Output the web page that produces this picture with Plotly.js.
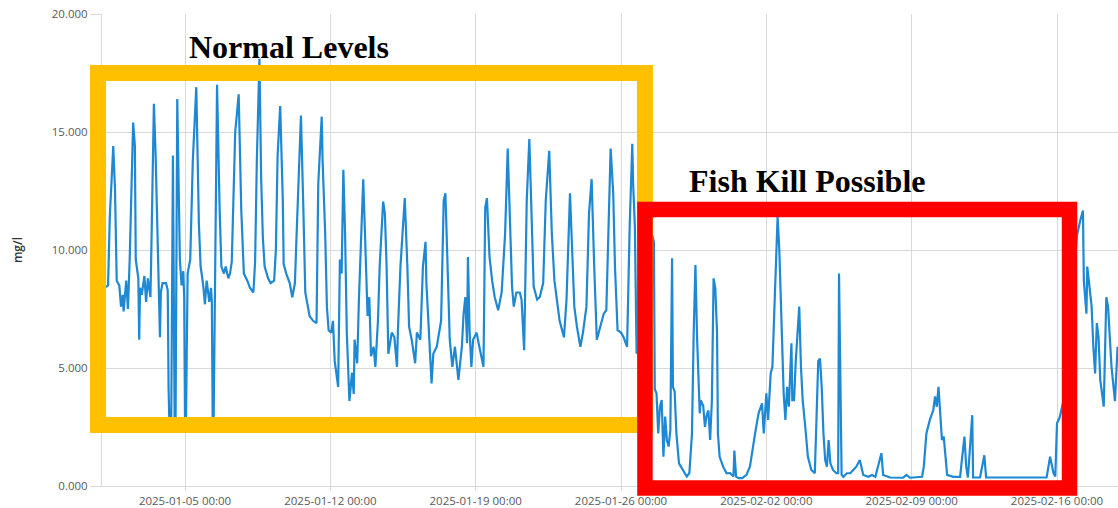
<!DOCTYPE html>
<html>
<head>
<meta charset="utf-8">
<script src="https://cdn.plot.ly/plotly-3.0.1.min.js"></script>
<style>
  html, body { margin: 0; padding: 0; background: #ffffff; }
  #chart { width: 1118px; height: 508px; }
</style>
</head>
<body>
<div id="chart"></div>
<script>
// Dissolved oxygen readings (mg/l)
const timestamps = [
'2025-01-01 03:00','2025-01-01 07:00','2025-01-01 09:00','2025-01-01 13:00','2025-01-01 15:00','2025-01-01 17:00','2025-01-01 20:00','2025-01-01 22:00',
'2025-01-02 00:00','2025-01-02 01:00','2025-01-02 04:00','2025-01-02 06:00','2025-01-02 08:00','2025-01-02 11:00','2025-01-02 12:00','2025-01-02 14:00','2025-01-02 15:00','2025-01-02 18:00','2025-01-02 19:00','2025-01-02 20:00','2025-01-02 22:00',
'2025-01-03 01:00','2025-01-03 03:00','2025-01-03 05:00','2025-01-03 08:00','2025-01-03 09:00','2025-01-03 11:00','2025-01-03 12:00','2025-01-03 14:00','2025-01-03 17:00','2025-01-03 19:00','2025-01-03 20:00','2025-01-03 22:00',
'2025-01-04 02:00','2025-01-04 04:00','2025-01-04 05:00','2025-01-04 06:00','2025-01-04 08:00','2025-01-04 10:00','2025-01-04 12:00','2025-01-04 13:00','2025-01-04 15:00','2025-01-04 16:00','2025-01-04 18:00','2025-01-04 20:00','2025-01-04 22:00','2025-01-04 23:00',
'2025-01-05 00:00','2025-01-05 01:00','2025-01-05 03:00','2025-01-05 06:00','2025-01-05 09:00','2025-01-05 13:00','2025-01-05 16:00','2025-01-05 18:00','2025-01-05 21:00','2025-01-05 23:00',
'2025-01-06 01:00','2025-01-06 04:00','2025-01-06 06:00','2025-01-06 07:00','2025-01-06 08:00','2025-01-06 09:00','2025-01-06 11:00','2025-01-06 13:00','2025-01-06 16:00','2025-01-06 18:00','2025-01-06 21:00','2025-01-06 23:00',
'2025-01-07 02:00','2025-01-07 04:00','2025-01-07 06:00','2025-01-07 10:00','2025-01-07 14:00','2025-01-07 17:00','2025-01-07 20:00',
'2025-01-08 00:00','2025-01-08 03:00','2025-01-08 07:00','2025-01-08 09:00','2025-01-08 11:00','2025-01-08 14:00','2025-01-08 16:00','2025-01-08 18:00','2025-01-08 20:00',
'2025-01-09 00:00','2025-01-09 03:00','2025-01-09 07:00','2025-01-09 09:00','2025-01-09 11:00','2025-01-09 14:00','2025-01-09 17:00','2025-01-09 18:00','2025-01-09 21:00',
'2025-01-10 01:00','2025-01-10 04:00','2025-01-10 07:00','2025-01-10 09:00','2025-01-10 14:00','2025-01-10 17:00','2025-01-10 19:00','2025-01-10 22:00',
'2025-01-11 00:00','2025-01-11 04:00','2025-01-11 08:00','2025-01-11 10:00','2025-01-11 13:00','2025-01-11 14:00','2025-01-11 15:00','2025-01-11 18:00','2025-01-11 20:00','2025-01-11 22:00',
'2025-01-12 01:00','2025-01-12 03:00','2025-01-12 05:00','2025-01-12 09:00','2025-01-12 11:00','2025-01-12 13:00','2025-01-12 15:00','2025-01-12 17:00','2025-01-12 19:00','2025-01-12 22:00',
'2025-01-13 01:00','2025-01-13 03:00','2025-01-13 04:00','2025-01-13 07:00','2025-01-13 09:00','2025-01-13 12:00','2025-01-13 14:00','2025-01-13 16:00','2025-01-13 19:00','2025-01-13 21:00','2025-01-13 23:00',
'2025-01-14 02:00','2025-01-14 04:00','2025-01-14 07:00','2025-01-14 09:00','2025-01-14 13:00','2025-01-14 15:00','2025-01-14 17:00','2025-01-14 19:00','2025-01-14 23:00',
'2025-01-15 02:00','2025-01-15 05:00','2025-01-15 06:00','2025-01-15 09:00','2025-01-15 14:00','2025-01-15 17:00','2025-01-15 19:00','2025-01-15 22:00',
'2025-01-16 02:00','2025-01-16 04:00','2025-01-16 08:00','2025-01-16 11:00','2025-01-16 14:00','2025-01-16 15:00','2025-01-16 18:00','2025-01-16 21:00','2025-01-16 23:00',
'2025-01-17 03:00','2025-01-17 08:00','2025-01-17 11:00','2025-01-17 13:00','2025-01-17 15:00','2025-01-17 18:00','2025-01-17 21:00',
'2025-01-18 00:00','2025-01-18 04:00','2025-01-18 08:00','2025-01-18 10:00','2025-01-18 12:00','2025-01-18 14:00','2025-01-18 15:00','2025-01-18 17:00','2025-01-18 19:00','2025-01-18 21:00',
'2025-01-19 01:00','2025-01-19 05:00','2025-01-19 09:00','2025-01-19 11:00','2025-01-19 13:00','2025-01-19 16:00','2025-01-19 19:00','2025-01-19 22:00',
'2025-01-20 02:00','2025-01-20 06:00','2025-01-20 10:00','2025-01-20 13:00','2025-01-20 15:00','2025-01-20 18:00','2025-01-20 20:00','2025-01-20 23:00',
'2025-01-21 03:00','2025-01-21 05:00','2025-01-21 08:00','2025-01-21 11:00','2025-01-21 14:00','2025-01-21 17:00','2025-01-21 19:00','2025-01-21 23:00',
'2025-01-22 02:00','2025-01-22 06:00','2025-01-22 09:00','2025-01-22 13:00','2025-01-22 16:00','2025-01-22 19:00','2025-01-22 22:00',
'2025-01-23 01:00','2025-01-23 06:00','2025-01-23 09:00','2025-01-23 13:00','2025-01-23 15:00','2025-01-23 18:00','2025-01-23 21:00',
'2025-01-24 01:00','2025-01-24 04:00','2025-01-24 08:00','2025-01-24 11:00','2025-01-24 14:00','2025-01-24 17:00','2025-01-24 20:00',
'2025-01-25 00:00','2025-01-25 04:00','2025-01-25 07:00','2025-01-25 09:00','2025-01-25 12:00','2025-01-25 15:00','2025-01-25 17:00','2025-01-25 20:00',
'2025-01-26 00:00','2025-01-26 03:00','2025-01-26 07:00','2025-01-26 10:00','2025-01-26 13:00','2025-01-26 14:00','2025-01-26 16:00','2025-01-26 18:00','2025-01-26 22:00',
'2025-01-27 04:00','2025-01-27 09:00','2025-01-27 14:00','2025-01-27 15:00','2025-01-27 17:00','2025-01-27 19:00','2025-01-27 21:00','2025-01-27 23:00',
'2025-01-28 01:00','2025-01-28 03:00','2025-01-28 05:00','2025-01-28 07:00','2025-01-28 09:00','2025-01-28 11:00','2025-01-28 12:00','2025-01-28 14:00','2025-01-28 16:00','2025-01-28 19:00',
'2025-01-29 00:00','2025-01-29 04:00','2025-01-29 07:00','2025-01-29 10:00','2025-01-29 12:00','2025-01-29 14:00','2025-01-29 16:00','2025-01-29 19:00','2025-01-29 20:00','2025-01-29 23:00',
'2025-01-30 01:00','2025-01-30 03:00','2025-01-30 05:00','2025-01-30 07:00','2025-01-30 09:00','2025-01-30 11:00','2025-01-30 13:00','2025-01-30 15:00','2025-01-30 16:00','2025-01-30 18:00','2025-01-30 22:00',
'2025-01-31 02:00','2025-01-31 06:00','2025-01-31 10:00','2025-01-31 11:00','2025-01-31 13:00','2025-01-31 16:00','2025-01-31 20:00',
'2025-02-01 01:00','2025-02-01 05:00','2025-02-01 11:00','2025-02-01 15:00','2025-02-01 19:00','2025-02-01 21:00',
'2025-02-02 00:00','2025-02-02 02:00','2025-02-02 05:00','2025-02-02 07:00','2025-02-02 09:00','2025-02-02 11:00','2025-02-02 13:00','2025-02-02 15:00','2025-02-02 17:00','2025-02-02 19:00','2025-02-02 20:00','2025-02-02 22:00',
'2025-02-03 00:00','2025-02-03 02:00','2025-02-03 05:00','2025-02-03 06:00','2025-02-03 08:00','2025-02-03 10:00','2025-02-03 12:00','2025-02-03 14:00','2025-02-03 16:00','2025-02-03 18:00','2025-02-03 21:00',
'2025-02-04 00:00','2025-02-04 04:00','2025-02-04 08:00','2025-02-04 10:00','2025-02-04 12:00','2025-02-04 14:00','2025-02-04 16:00','2025-02-04 18:00','2025-02-04 20:00','2025-02-04 22:00',
'2025-02-05 00:00','2025-02-05 02:00','2025-02-05 05:00','2025-02-05 09:00','2025-02-05 11:00','2025-02-05 12:00','2025-02-05 14:00','2025-02-05 15:00','2025-02-05 17:00','2025-02-05 21:00',
'2025-02-06 01:00','2025-02-06 04:00','2025-02-06 08:00','2025-02-06 12:00','2025-02-06 14:00','2025-02-06 16:00','2025-02-06 22:00',
'2025-02-07 02:00','2025-02-07 06:00','2025-02-07 09:00','2025-02-07 13:00','2025-02-07 15:00','2025-02-07 23:00',
'2025-02-08 14:00','2025-02-08 18:00','2025-02-08 22:00',
'2025-02-09 12:00','2025-02-09 14:00','2025-02-09 17:00','2025-02-09 21:00',
'2025-02-10 01:00','2025-02-10 03:00','2025-02-10 05:00','2025-02-10 07:00','2025-02-10 09:00','2025-02-10 11:00','2025-02-10 13:00','2025-02-10 15:00','2025-02-10 17:00',
'2025-02-11 00:00','2025-02-11 08:00','2025-02-11 10:00','2025-02-11 13:00','2025-02-11 15:00','2025-02-11 17:00','2025-02-11 22:00','2025-02-11 23:00',
'2025-02-12 07:00','2025-02-12 12:00','2025-02-12 14:00',
'2025-02-13 06:00','2025-02-14 05:00',
'2025-02-15 12:00','2025-02-15 16:00','2025-02-15 20:00','2025-02-15 22:00',
'2025-02-16 00:00','2025-02-16 03:00','2025-02-16 10:00','2025-02-16 17:00','2025-02-16 23:00',
'2025-02-17 03:00','2025-02-17 06:00','2025-02-17 07:00','2025-02-17 10:00','2025-02-17 11:00','2025-02-17 13:00','2025-02-17 16:00','2025-02-17 18:00','2025-02-17 20:00','2025-02-17 22:00',
'2025-02-18 00:00','2025-02-18 02:00','2025-02-18 06:00','2025-02-18 09:00','2025-02-18 11:00','2025-02-18 15:00','2025-02-18 19:00','2025-02-18 22:00'
];

const oxygen = [
8.4,8.5,11.4,14.4,12.6,8.7,8.5,7.6,
8.1,7.4,8.7,7.5,9.6,13.8,15.4,14.4,9.6,8.8,6.2,8.4,8.1,
8.9,7.8,8.8,8.0,9.9,14.0,16.2,14.0,9.4,6.3,8.2,8.6,
8.6,8.3,4.1,2.5,2.5,14.0,2.5,2.5,16.4,13.9,9.6,8.5,9.1,8.0,
2.5,2.5,9.0,9.6,13.8,16.9,11.1,9.3,8.5,7.7,
8.7,7.8,8.4,7.8,2.5,2.5,9.5,17.0,11.7,9.3,9.0,9.3,
8.8,9.0,9.5,15.0,16.6,11.7,9.0,
8.7,8.4,8.2,9.5,13.8,18.1,13.0,10.5,9.3,
8.8,8.6,8.7,10.0,14.0,16.1,12.1,9.4,9.0,
8.6,8.0,8.6,10.7,15.7,11.4,8.2,7.6,
7.2,7.0,6.9,12.8,15.3,15.65,13.8,10.7,7.6,6.6,
6.5,7.0,5.3,4.2,9.6,9.0,13.4,10.7,6.5,3.6,
4.8,3.9,6.2,5.2,7.9,11.4,13.0,10.7,7.2,8.0,5.5,
5.9,5.05,7.0,9.3,12.05,11.55,9.3,5.6,6.5,
6.3,5.05,6.5,9.3,12.2,9.3,6.75,6.2,
5.2,6.5,6.2,9.3,10.35,8.6,6.2,4.35,5.6,
5.9,7.0,12.1,12.4,9.7,6.2,5.05,
5.9,4.5,5.9,7.3,8.0,6.05,9.7,6.5,5.05,6.2,
6.5,5.75,5.05,11.8,12.2,9.7,8.7,8.0,
7.45,8.2,10.7,14.3,12.1,8.45,7.6,8.2,
8.2,7.9,5.75,12.1,14.7,11.4,8.45,7.9,
8.0,8.6,12.1,14.2,10.7,8.7,7.9,
7.0,6.3,7.9,12.4,10.7,7.6,6.75,
5.9,6.5,7.6,11.55,13.0,9.3,6.2,
6.75,7.3,7.45,10.7,14.3,12.4,9.3,6.6,
6.5,6.3,5.9,11.0,14.5,12.8,11.0,5.6,6.5,
8.0,11.0,10.35,4.1,3.93,2.23,3.36,3.64,
1.24,2.94,1.95,1.67,2.37,9.65,4.2,4.0,2.23,0.96,
0.68,0.4,0.55,2.2,6.47,9.36,6.2,3.08,3.64,3.4,
2.5,3.0,3.2,1.95,3.6,8.8,8.37,6.47,2.23,1.24,0.82,
0.54,0.55,0.4,1.5,0.4,0.33,0.33,
0.47,0.82,2.23,3.08,3.5,2.23,
3.93,2.8,4.77,5.05,7.2,9.3,11.4,10.0,7.9,5.75,3.93,2.8,
4.2,3.36,6.05,3.64,3.64,5.3,6.75,7.6,5.05,3.64,2.5,
1.24,0.68,0.54,2.9,5.3,5.4,4.2,2.23,1.1,0.82,
1.95,0.96,0.68,0.54,0.54,9.0,1.39,0.47,0.39,0.54,
0.54,0.68,0.82,1.1,0.82,0.47,0.39,
0.47,0.39,0.82,1.39,0.47,0.36,
0.35,0.47,0.35,
0.39,0.82,2.23,2.8,
3.22,3.8,3.36,4.2,2.94,1.95,2.1,1.1,0.47,
0.39,0.39,1.1,2.09,0.82,0.36,3.0,0.36,
0.36,1.3,0.36,
0.36,0.38,
0.36,1.24,0.54,0.4,
2.66,2.9,4.0,8.0,10.6,
11.27,11.67,8.7,7.3,9.3,8.6,7.6,5.9,4.77,6.9,
6.3,4.5,3.36,8.0,7.6,5.05,3.6,5.9
];

const xRange = ['2025-01-01 00:00', '2025-02-18 22:30'];
const yRange = [0, 20];
const yTickValues = [0, 5, 10, 15, 20];
const yAxisLabel = 'mg/l';
const zoneLabels = ['Normal Levels', 'Fish Kill Possible'];

const gridColor = '#d9d9d9';
const tickFont = { family: 'Open Sans, sans-serif', size: 11.5, color: '#595959' };

const trace = {
  type: 'scatter',
  mode: 'lines',
  x: timestamps,
  y: oxygen,
  line: { color: '#1f88d2', width: 2.2 },
  hoverinfo: 'skip',
  showlegend: false
};

const layout = {
  width: 1118,
  height: 508,
  margin: { l: 102, r: 0, t: 14, b: 22 },
  paper_bgcolor: '#ffffff',
  plot_bgcolor: '#ffffff',
  showlegend: false,
  xaxis: {
    type: 'date',
    range: xRange,
    tick0: '2025-01-05',
    dtick: 7 * 86400000,
    tickformat: '%Y-%m-%d %H:%M',
    showgrid: true,
    gridcolor: gridColor,
    gridwidth: 1,
    ticks: 'outside',
    ticklen: 4,
    tickcolor: gridColor,
    showline: true,
    linecolor: gridColor,
    tickfont: tickFont,
    zeroline: false,
    automargin: false
  },
  yaxis: {
    range: yRange,
    tickvals: yTickValues,
    tickformat: '.3f',
    showgrid: true,
    gridcolor: gridColor,
    gridwidth: 1,
    ticks: 'outside',
    ticklen: 11,
    tickcolor: gridColor,
    showline: true,
    linecolor: gridColor,
    zeroline: true,
    zerolinecolor: gridColor,
    zerolinewidth: 1,
    tickfont: tickFont,
    automargin: false,
    title: {
      text: yAxisLabel,
      standoff: 26,
      font: { family: 'Open Sans, sans-serif', size: 12, color: '#333333', weight: 600 }
    }
  },
  shapes: [
    {
      type: 'rect', xref: 'paper', yref: 'paper',
      x0: -0.0039, x1: 0.5344, y0: 0.1292, y1: 0.875,
      line: { color: '#FFC000', width: 16 },
      fillcolor: 'rgba(0,0,0,0)',
      layer: 'above'
    },
    {
      type: 'rect', xref: 'paper', yref: 'paper',
      x0: 0.5344, x1: 0.9523, y0: -0.0042, y1: 0.5858,
      line: { color: '#FF0000', width: 15.5 },
      fillcolor: 'rgba(0,0,0,0)',
      layer: 'above'
    }
  ],
  annotations: [
    {
      text: zoneLabels[0], xref: 'paper', yref: 'paper',
      x: 0.184, y: 0.930, xanchor: 'center', yanchor: 'middle', showarrow: false,
      font: { family: 'Liberation Serif, Times New Roman, serif', size: 32, color: '#000000', weight: 'bold' }
    },
    {
      text: zoneLabels[1], xref: 'paper', yref: 'paper',
      x: 0.694, y: 0.646, xanchor: 'center', yanchor: 'middle', showarrow: false,
      font: { family: 'Liberation Serif, Times New Roman, serif', size: 32, color: '#000000', weight: 'bold' }
    }
  ]
};

Plotly.newPlot('chart', [trace], layout, { staticPlot: true, displayModeBar: false });
</script>
</body>
</html>
